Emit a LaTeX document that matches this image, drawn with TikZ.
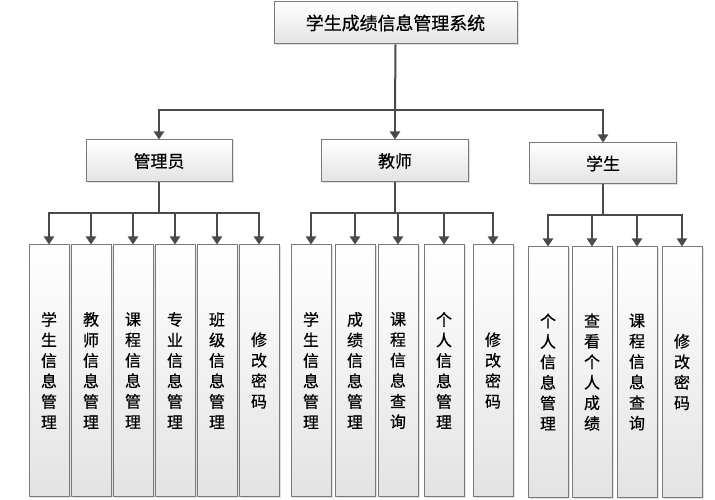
\documentclass[tikz,border=0pt]{standalone}
\usepackage{fontspec}
\newfontfamily\cjk[FakeBold=0.6]{Noto Sans CJK SC}
\usetikzlibrary{arrows.meta,shadows}
\definecolor{boxline}{HTML}{7A7A7A}
\definecolor{conn}{HTML}{4A4A4A}
\tikzset{
  box/.style={draw=boxline, line width=1bp, top color=white, bottom color=gray!22,
    drop shadow={opacity=0.25, shadow xshift=1.5bp, shadow yshift=-1.5bp},
    inner sep=0pt, align=center},
  headbox/.style={box, font=\cjk\fontsize{17}{20}\selectfont},
  leafbox/.style={box, minimum width=40bp, minimum height=251bp,
    font=\cjk\fontsize{16}{20.6}\selectfont},
  link/.style={draw=conn, line width=2bp},
  arr/.style={link, -{Triangle[width=10bp,length=8bp]}},
}
\begin{document}
\begin{tikzpicture}[x=1bp,y=-1bp]
\useasboundingbox (0,0) rectangle (715,500);
% root
\node[headbox, minimum width=243bp, minimum height=42bp, font=\cjk\fontsize{18}{20}\selectfont] (root) at (395.5,23) {学生成绩信息管理系统};
% level 2
\node[headbox, minimum width=146bp, minimum height=42bp] (adm) at (159,161) {管理员};
\node[headbox, minimum width=147bp, minimum height=42bp] (tea) at (395,161) {教师};
\node[headbox, minimum width=147bp, minimum height=41bp] (stu) at (603,163.5) {学生};
% admin leaves
\node[leafbox] (a1) at (49,370.5) {学\\生\\信\\息\\管\\理};
\node[leafbox] (a2) at (91,370.5) {教\\师\\信\\息\\管\\理};
\node[leafbox] (a3) at (133,370.5) {课\\程\\信\\息\\管\\理};
\node[leafbox] (a4) at (175,370.5) {专\\业\\信\\息\\管\\理};
\node[leafbox] (a5) at (217,370.5) {班\\级\\信\\息\\管\\理};
\node[leafbox] (a6) at (259,370.5) {修\\改\\密\\码};
% teacher leaves
\node[leafbox] (t1) at (311,370.5) {学\\生\\信\\息\\管\\理};
\node[leafbox] (t2) at (355,370.5) {成\\绩\\信\\息\\管\\理};
\node[leafbox] (t3) at (398,370.5) {课\\程\\信\\息\\查\\询};
\node[leafbox] (t4) at (444,370.5) {个\\人\\信\\息\\管\\理};
\node[leafbox] (t5) at (493,370.5) {修\\改\\密\\码};
% student leaves
\node[leafbox, minimum height=250bp] (s1) at (548,372) {个\\人\\信\\息\\管\\理};
\node[leafbox, minimum height=250bp] (s2) at (592,372) {查\\看\\个\\人\\成\\绩};
\node[leafbox, minimum height=250bp] (s3) at (637,372) {课\\程\\信\\息\\查\\询};
\node[leafbox, minimum height=250bp] (s4) at (682,372) {修\\改\\密\\码};
% junctions
\coordinate (j0) at (395,110);
\coordinate (ja) at (159,213);
\coordinate (jt) at (395,213);
\coordinate (js) at (603,215);
% root connectors
\draw[link] (root.south) -- (j0);
\draw[arr] (j0) -| (adm.north);
\draw[arr] (j0) -- (tea.north);
\draw[arr] (j0) -| (stu.north);
% admin connectors
\draw[link] (adm.south) -- (ja);
\foreach \n in {a1,a2,a3,a4,a5,a6} \draw[arr] (ja) -| (\n.north);
% teacher connectors
\draw[link] (tea.south) -- (jt);
\foreach \n in {t1,t2,t3,t4,t5} \draw[arr] (jt) -| (\n.north);
% student connectors
\draw[link] (stu.south) -- (js);
\foreach \n in {s1,s2,s3,s4} \draw[arr] (js) -| (\n.north);
\end{tikzpicture}
\end{document}
